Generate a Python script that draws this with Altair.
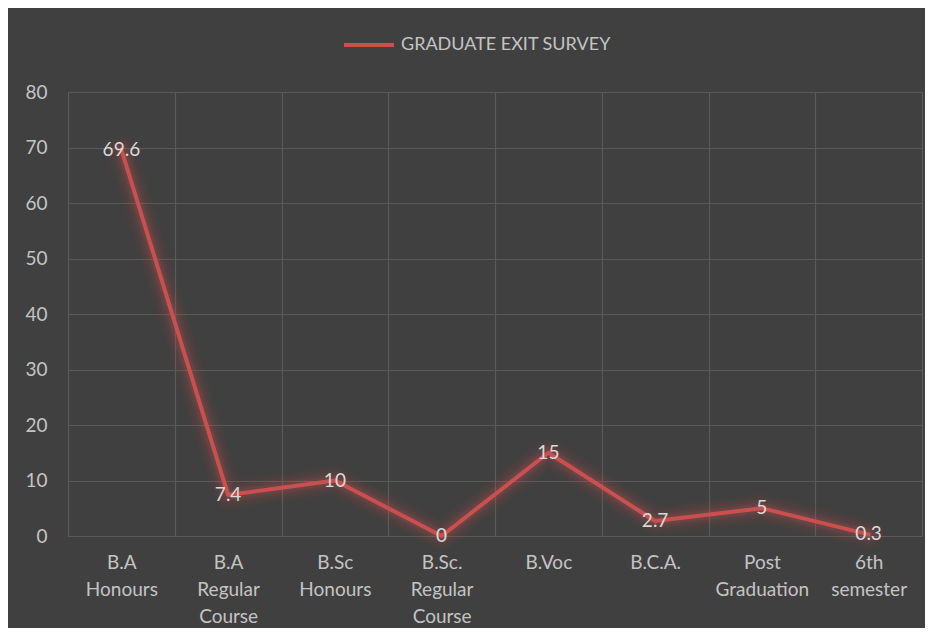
import altair as alt
import pandas as pd

categories = ["B.A Honours", "B.A Regular Course", "B.Sc Honours", "B.Sc. Regular Course",
              "B.Voc", "B.C.A.", "Post Graduation", "6th semester"]
values = [69.6, 7.4, 10, 0, 15, 2.7, 5, 0.3]
series_name = "GRADUATE EXIT SURVEY"

df = pd.DataFrame({"category": categories, "value": values, "series": series_name})

RED = "#c9504f"
TXT = "#c4c4c4"
FONT = "Lato"

x_enc = alt.X("category:N", sort=categories,
              scale=alt.Scale(type="band", paddingInner=0, paddingOuter=0),
              axis=alt.Axis(title=None, labelAngle=0, tickBand="extent", grid=True,
                            domain=False, ticks=False, labelPadding=17,
                            labelExpr="split(datum.label, ' ')", labelLineHeight=27,
                            labelFontSize=19, labelColor=TXT, labelFont=FONT,
                            gridColor="#5a5a5a", gridWidth=1.2))
y_enc = alt.Y("value:Q", scale=alt.Scale(domain=[0, 80], nice=False),
              axis=alt.Axis(title=None, values=list(range(0, 81, 10)), grid=True,
                            domain=False, ticks=False, labelPadding=21,
                            labelFontSize=19, labelColor=TXT, labelFont=FONT,
                            gridColor="#5a5a5a", gridWidth=1.2))

base = alt.Chart(df)

glows = [
    base.mark_line(strokeWidth=w, opacity=o, strokeJoin="round", strokeCap="round", color=RED)
        .encode(x=x_enc, y=y_enc)
    for w, o in [(30, 0.04), (24, 0.05), (18, 0.07), (13, 0.09), (9, 0.12)]
]

main = base.mark_line(strokeWidth=4, strokeJoin="round", strokeCap="round").encode(
    x=x_enc, y=y_enc,
    color=alt.Color("series:N", scale=alt.Scale(range=[RED]),
                    legend=alt.Legend(title=None, orient="none", legendX=274, legendY=-74,
                                      symbolType="stroke", symbolSize=2500,
                                      symbolStrokeWidth=4, symbolStrokeColor=RED,
                                      labelFontSize=18, labelColor=TXT, labelFont=FONT,
                                      labelOffset=5, labelLimit=0)),
)

labels = base.mark_text(fontSize=19, color="#d9d9d9", font=FONT, baseline="middle",
                        align="center").encode(x=x_enc, y=y_enc, text=alt.Text("value:Q"))

chart = alt.layer(*glows, main, labels).properties(
    width=854, height=444,
    autosize=alt.AutoSizeParams(type="none"),
    padding={"left": 60, "top": 84, "right": 3, "bottom": 92},
    background="#404040",
).configure_view(stroke=None)

chart.save("out.html", embed_options={"renderer": "svg", "actions": False})
